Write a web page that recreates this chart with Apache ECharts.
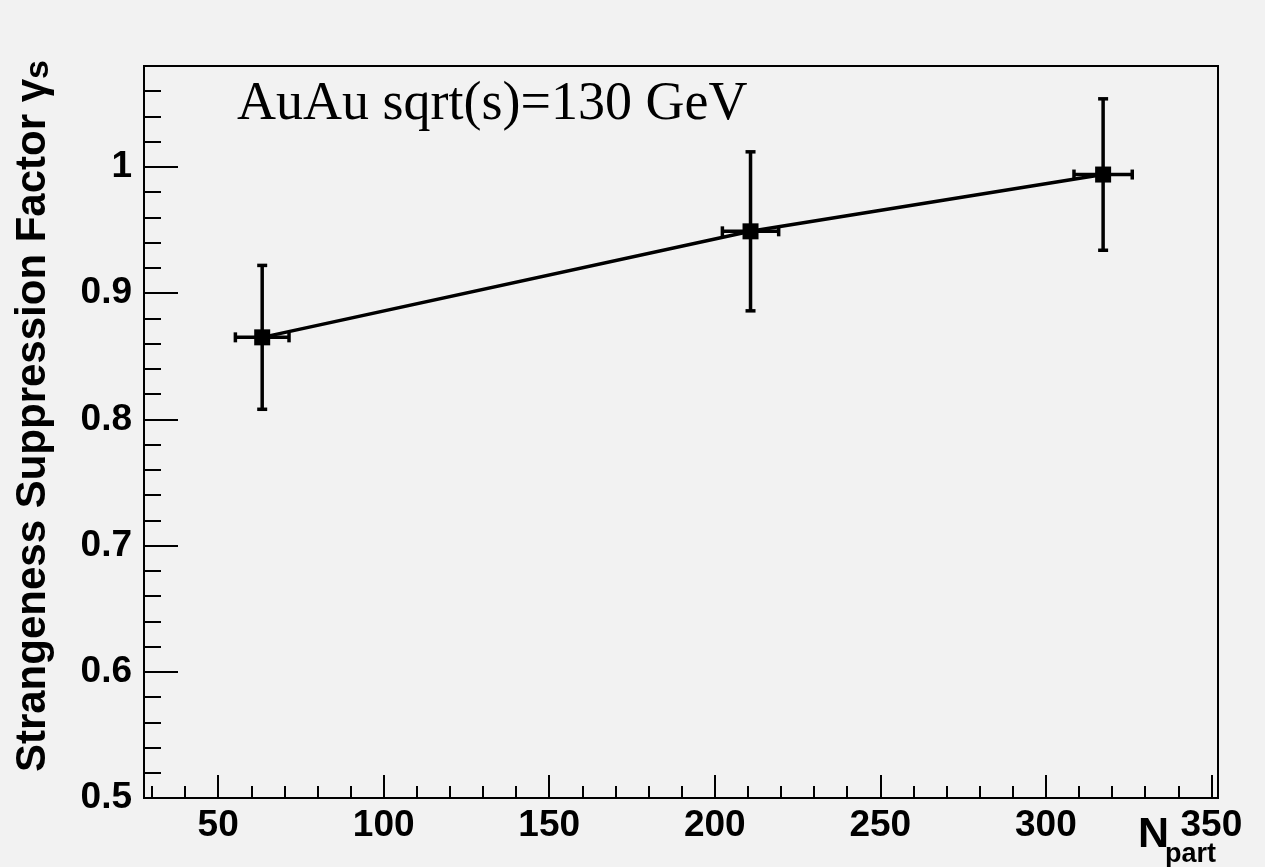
<!DOCTYPE html>
<html>
<head>
<meta charset="utf-8">
<script src="https://cdn.jsdelivr.net/npm/echarts@6/dist/echarts.min.js"></script>
<style>
  html, body { margin: 0; padding: 0; background: #f2f2f2; }
  #chart { width: 1265px; height: 867px; }
</style>
</head>
<body>
<div id="chart"></div>
<script>
// Strangeness suppression factor vs. number of participants, AuAu at 130 GeV
const npart     = [63.3, 210.8, 317.3];
const npartErr  = [8.1, 8.5, 8.8];
const gammaS    = [0.865, 0.949, 0.994];
const gammaErr  = [0.057, 0.063, 0.060];

const xMajorTicks = [50, 100, 150, 200, 250, 300, 350];
const xMinorTicks = [30, 40, 60, 70, 80, 90, 110, 120, 130, 140, 160, 170, 180, 190,
                     210, 220, 230, 240, 260, 270, 280, 290, 310, 320, 330, 340];
const yMajorTicks = [0.5, 0.6, 0.7, 0.8, 0.9, 1.0];
const yMinorTicks = [0.52, 0.54, 0.56, 0.58, 0.62, 0.64, 0.66, 0.68, 0.72, 0.74, 0.76, 0.78,
                     0.82, 0.84, 0.86, 0.88, 0.92, 0.94, 0.96, 0.98, 1.02, 1.04, 1.06];

const X_MIN = 27.6, X_MAX = 352;
const Y_MIN = 0.5, Y_MAX = 1.08;

const labelFont = { color: '#000', fontFamily: 'Liberation Sans', fontWeight: 'bold', fontSize: 37 };

const chart = echarts.init(document.getElementById('chart'), null, { renderer: 'canvas' });

const points = npart.map((x, i) => [x, gammaS[i]]);
const errRows = npart.map((x, i) => [x, gammaS[i], npartErr[i], gammaErr[i]]);

const option = {
  backgroundColor: '#f2f2f2',
  animation: false,
  grid: {
    left: 144, right: 47, top: 66, bottom: 69,
    show: true, borderColor: '#000', borderWidth: 2, backgroundColor: 'transparent'
  },
  xAxis: [
    {
      type: 'value', min: X_MIN, max: X_MAX,
      axisLine: { show: true, lineStyle: { color: '#000', width: 2 } },
      axisTick: { show: true, inside: true, length: 23, customValues: xMajorTicks,
                  lineStyle: { color: '#000', width: 2 } },
      axisLabel: Object.assign({ customValues: xMajorTicks, margin: 9 }, labelFont),
      splitLine: { show: false }
    },
    {
      type: 'value', min: X_MIN, max: X_MAX, position: 'bottom',
      axisLine: { show: false },
      axisTick: { show: true, inside: true, length: 12, customValues: xMinorTicks,
                  lineStyle: { color: '#000', width: 2 } },
      axisLabel: { show: false },
      splitLine: { show: false }
    }
  ],
  yAxis: [
    {
      type: 'value', min: Y_MIN, max: Y_MAX,
      axisLine: { show: true, lineStyle: { color: '#000', width: 2 } },
      axisTick: { show: true, inside: true, length: 34, customValues: yMajorTicks,
                  lineStyle: { color: '#000', width: 2 } },
      axisLabel: Object.assign({ customValues: yMajorTicks, margin: 12 }, labelFont),
      splitLine: { show: false }
    },
    {
      type: 'value', min: Y_MIN, max: Y_MAX, position: 'left',
      axisLine: { show: false },
      axisTick: { show: true, inside: true, length: 17, customValues: yMinorTicks,
                  lineStyle: { color: '#000', width: 2 } },
      axisLabel: { show: false },
      splitLine: { show: false }
    }
  ],
  graphic: [
    {
      type: 'text', left: 237, top: 78,
      style: { text: 'AuAu sqrt(s)=130 GeV', fontFamily: 'Liberation Serif',
               fontSize: 54, fill: '#000' }
    },
    {
      type: 'text', x: 33, y: 60, rotation: Math.PI / 2,
      style: {
        text: 'Strangeness Suppression Factor γ{s|s}',
        fontFamily: 'Liberation Sans', fontWeight: 'bold', fontSize: 42, fill: '#000',
        align: 'right', verticalAlign: 'middle',
        rich: { s: { fontFamily: 'Liberation Sans', fontWeight: 'bold', fontSize: 34,
                     fill: '#000', padding: [12, 0, 0, 0] } }
      }
    },
    {
      type: 'text', left: 1138, top: 814,
      style: { text: 'N', fontFamily: 'Liberation Sans', fontWeight: 'bold',
               fontSize: 43, fill: '#000' }
    },
    {
      type: 'text', left: 1165, top: 841,
      style: { text: 'part', fontFamily: 'Liberation Sans', fontWeight: 'bold',
               fontSize: 27, fill: '#000' }
    }
  ],
  series: [
    {
      type: 'custom',
      xAxisIndex: 0, yAxisIndex: 0,
      data: errRows,
      encode: { x: 0, y: 1 },
      z: 2,
      renderItem: function (params, api) {
        const x = api.value(0), y = api.value(1), ex = api.value(2), ey = api.value(3);
        const top = api.coord([x, y + ey]);
        const bot = api.coord([x, y - ey]);
        const lft = api.coord([x - ex, y]);
        const rgt = api.coord([x + ex, y]);
        const st = { stroke: '#000', lineWidth: 3.5 };
        const cap = 5;
        const line = (x1, y1, x2, y2) => ({ type: 'line', shape: { x1, y1, x2, y2 }, style: st });
        return {
          type: 'group',
          children: [
            line(top[0], top[1], bot[0], bot[1]),
            line(top[0] - cap, top[1], top[0] + cap, top[1]),
            line(bot[0] - cap, bot[1], bot[0] + cap, bot[1]),
            line(lft[0], lft[1], rgt[0], rgt[1]),
            line(lft[0], lft[1] - cap, lft[0], lft[1] + cap),
            line(rgt[0], rgt[1] - cap, rgt[0], rgt[1] + cap)
          ]
        };
      }
    },
    {
      type: 'line',
      xAxisIndex: 0, yAxisIndex: 0,
      data: points,
      z: 3,
      symbol: 'rect', symbolSize: 16,
      itemStyle: { color: '#000' },
      lineStyle: { color: '#000', width: 3.5 }
    }
  ]
};

chart.setOption(option);
</script>
</body>
</html>
